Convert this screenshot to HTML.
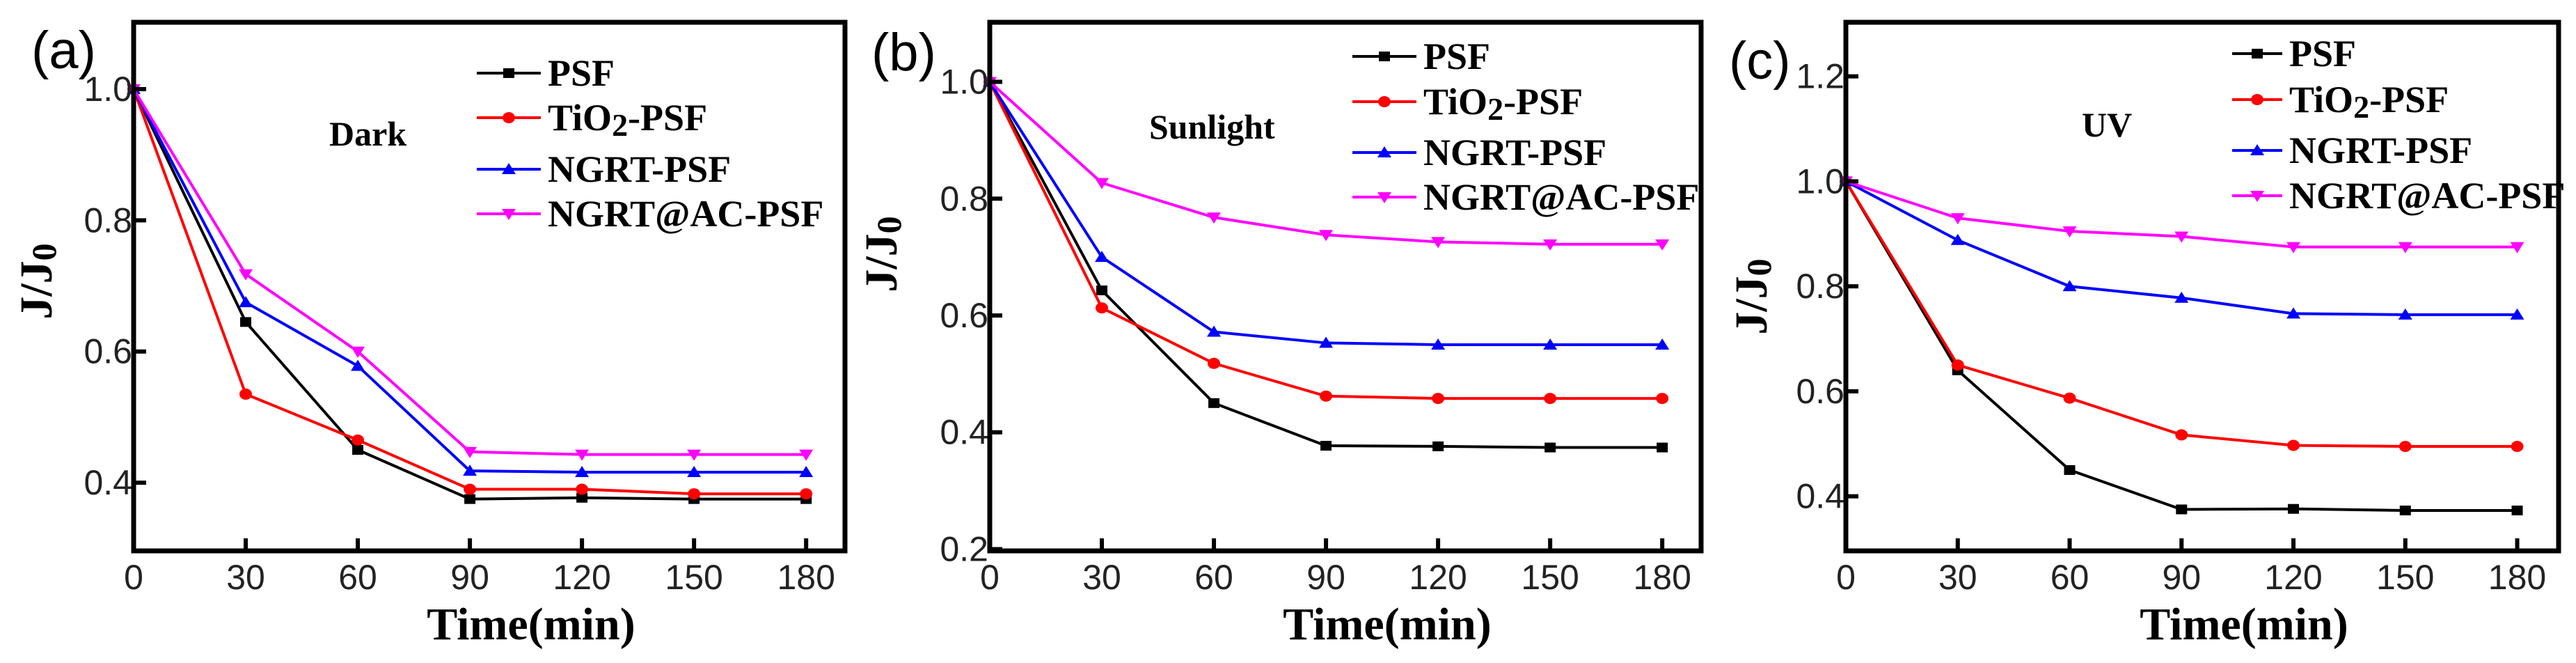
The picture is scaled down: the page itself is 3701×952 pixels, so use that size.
<!DOCTYPE html>
<html><head><meta charset="utf-8"><style>
html,body{margin:0;padding:0;background:#fff;}
svg{display:block;}
text{font-family:"Liberation Serif",serif;}
.tick{font-family:"Liberation Sans",sans-serif;font-size:50px;fill:#222;}
.ttl{font-weight:bold;font-size:66px;}
.leg{font-weight:bold;font-size:54px;}
.cond{font-weight:bold;font-size:50px;}
.plab{font-family:"Liberation Sans",sans-serif;font-size:76px;}
</style></head><body>
<svg id="fig" width="3701" height="952" viewBox="0 0 3701 952" xmlns="http://www.w3.org/2000/svg"></svg>
<script>
const times = [0,30,60,90,120,150,180];
const seriesNames = ["PSF","TiO2-PSF","NGRT-PSF","NGRT@AC-PSF"];
const darkPSF = [1,0.645,0.45,0.375,0.377,0.375,0.375];
const darkTiO2 = [1,0.535,0.465,0.39,0.39,0.383,0.383];
const darkNGRT = [1,0.675,0.578,0.418,0.416,0.416,0.416];
const darkAC = [1,0.718,0.6,0.447,0.443,0.443,0.443];
const sunPSF = [1,0.643,0.45,0.377,0.376,0.374,0.374];
const sunTiO2 = [1,0.613,0.518,0.462,0.458,0.458,0.458];
const sunNGRT = [1,0.7,0.572,0.553,0.55,0.55,0.55];
const sunAC = [1,0.827,0.768,0.738,0.726,0.722,0.722];
const uvPSF = [1,0.64,0.45,0.375,0.376,0.373,0.373];
const uvTiO2 = [1,0.65,0.587,0.517,0.497,0.495,0.495];
const uvNGRT = [1,0.888,0.8,0.778,0.748,0.746,0.746];
const uvAC = [1,0.93,0.905,0.895,0.875,0.875,0.875];
const xTicks = [0,30,60,90,120,150,180];
const yTicksA = [0.4,0.6,0.8,1.0];
const yTicksB = [0.2,0.4,0.6,0.8,1.0];
const yTicksC = [0.4,0.6,0.8,1.0,1.2];

const NS="http://www.w3.org/2000/svg";
const svg=document.getElementById('fig');
const colors=["#000000","#ff0000","#0000ff","#ff00ff"];
const markers=["square","circle","up","down"];
function el(tag,attrs,parent){const e=document.createElementNS(NS,tag);for(const k in attrs)e.setAttribute(k,attrs[k]);(parent||svg).appendChild(e);return e;}
function marker(g,type,x,y,c){
  let m;
  if(type==="square")m=el('rect',{x:x-8,y:y-7,width:16,height:14,fill:c},g);
  else if(type==="circle")m=el('ellipse',{cx:x,cy:y,rx:9,ry:8,fill:c},g);
  else if(type==="up")m=el('polygon',{points:`${x},${y-9} ${x-10},${y+7} ${x+10},${y+7}`,fill:c},g);
  else m=el('polygon',{points:`${x},${y+9} ${x-10},${y-7} ${x+10},${y-7}`,fill:c},g);
  
  
}
function panel(p){
  const g=el('g',{});
  
  
  const X=v=>p.L+(v-0)/(p.xmax)*(p.R-p.L);
  const Y=v=>p.B-(v-p.ymin)/(p.ymax-p.ymin)*(p.B-p.T);
  p.series.forEach((s,i)=>{
    const pts=times.map((t,j)=>X(t)+','+Y(s[j])).join(' ');
    const pl=el('polyline',{points:pts,fill:'none',stroke:colors[i],'stroke-width':4},g);
    
    
    times.forEach((t,j)=>marker(g,markers[i],X(t),Y(s[j]),colors[i]));
  });
  const fr=el('rect',{x:p.L,y:p.T,width:p.R-p.L,height:p.B-p.T,fill:'none',stroke:'#000','stroke-width':7},g);
  
  
  xTicks.forEach(v=>{
    const x=X(v);
    const t=el('line',{x1:x,y1:p.B,x2:x,y2:p.B-18,stroke:'#000','stroke-width':6},g);
    
    
    const lb=el('text',{x:x,y:p.B+55,'text-anchor':'middle',class:'tick'},g);
    lb.textContent=v;
    
    
  });
  p.yt.forEach(v=>{
    const y=Y(v);
    const t=el('line',{x1:p.L,y1:y,x2:p.L+18,y2:y,stroke:'#000','stroke-width':6},g);
    
    
    const lb=el('text',{x:p.L-2,y:y+17,'text-anchor':'end',class:'tick'},g);
    lb.textContent=v.toFixed(1);
    
    
  });
  const xt=el('text',{x:(p.L+p.R)/2+60,y:918,'text-anchor':'middle',class:'ttl'},g);
  xt.textContent='Time(min)';
  
  
  const yt=el('text',{x:0,y:0,'text-anchor':'middle',class:'ttl',transform:`translate(${p.ytx},${p.yty}) rotate(-90)`},g);
  yt.innerHTML='J/J<tspan font-size="50" dy="6">0</tspan>';
  
  
  const pl=el('text',{x:p.plx,y:p.ply,class:'plab'},g);
  pl.textContent='('+p.id+')';
  
  
  const cd=el('text',{x:p.cx,y:p.cy,class:'cond'},g);
  cd.textContent=p.cond;
  
  
  p.legY.forEach((ly,i)=>{
    const lg=el('g',{},g);
    
    
    el('line',{x1:p.lx1,y1:ly,x2:p.lx2,y2:ly,stroke:colors[i],'stroke-width':4},lg);
    marker(lg,markers[i],(p.lx1+p.lx2)/2,ly,colors[i]);
    const t=el('text',{x:p.lx2+10,y:ly+18,class:'leg'},lg);
    if(i===1)t.innerHTML='TiO<tspan font-size="46" dy="8">2</tspan><tspan dy="-8">-PSF</tspan>';
    else t.textContent=seriesNames[i];
  });
}
panel({id:'a',L:192,R:1214,T:32,B:791,xmax:190.4,ymin:0.296,ymax:1.102,yt:yTicksA,
  series:[darkPSF,darkTiO2,darkNGRT,darkAC],ytx:74,yty:404,plx:45,ply:98,cond:'Dark',cx:473,cy:209,
  lx1:685,lx2:777,legY:[105,169,243,307]});
panel({id:'b',L:1422,R:2444,T:32,B:791,xmax:190.4,ymin:0.197,ymax:1.102,yt:yTicksB,
  series:[sunPSF,sunTiO2,sunNGRT,sunAC],ytx:1288,yty:365,plx:1252,ply:101,cond:'Sunlight',cx:1651,cy:199,
  lx1:1943,lx2:2035,legY:[81,146,219,283]});
panel({id:'c',L:2652,R:3676,T:32,B:791,xmax:191.1,ymin:0.296,ymax:1.303,yt:yTicksC,
  series:[uvPSF,uvTiO2,uvNGRT,uvAC],ytx:2538,yty:426,plx:2484,ply:113,cond:'UV',cx:2991,cy:196,
  lx1:3207,lx2:3279,legY:[77,143,216,281]});
</script>
</body></html>
